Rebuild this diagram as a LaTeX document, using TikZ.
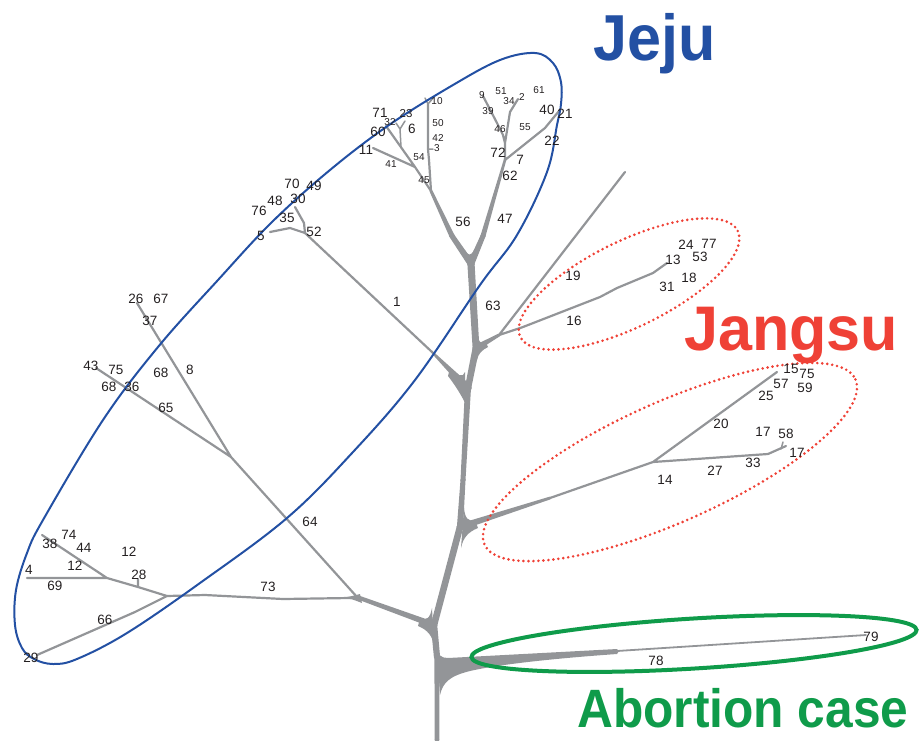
\documentclass[tikz,border=0pt]{standalone}
\usepackage{fontspec}
\setmainfont{Liberation Sans}
\usetikzlibrary{calc}
\definecolor{treegray}{RGB}{147,149,152}
\definecolor{labc}{RGB}{35,31,32}
\definecolor{jejublue}{RGB}{35,80,163}
\definecolor{jangred}{RGB}{239,65,54}
\definecolor{abgreen}{RGB}{15,155,74}

% tapered limb from #1 to #2 with half widths #3 and #4
\newcommand\tbranch[4]{%
  \fill[treegray] ($(#1)!#3!90:(#2)$) -- ($(#1)!#3!-90:(#2)$) --
    ($(#2)!#4!90:(#1)$) -- ($(#2)!#4!-90:(#1)$) -- cycle;
  \fill[treegray] (#1) circle[radius=#3];
  \fill[treegray] (#2) circle[radius=#4];}

\tikzset{
  lab/.style={font=\fontsize{13.5}{14}\selectfont, text=labc, inner sep=0pt},
  mlab/.style={font=\fontsize{11.5}{12}\selectfont, text=labc, inner sep=0pt},
  slab/.style={font=\fontsize{10}{11}\selectfont, text=labc, inner sep=0pt},
  twig/.style={draw=treegray, line width=2.2pt, line cap=round, line join=round},
  fine twig/.style={draw=treegray, line width=1.5pt, line cap=round, line join=round},
  dotted outline/.style={draw=jangred, line width=2.9pt, line cap=round, dash pattern=on 0pt off 5pt},
  title/.style={inner sep=0pt, anchor=base west},
}

\begin{document}
\begin{tikzpicture}[x=1pt,y=-1pt]
\useasboundingbox (0,0) rectangle (919,740);

% ---------- tree points ----------
% trunk
\coordinate (r0) at (437,740);
\coordinate (r1) at (437,657);
\coordinate (r2) at (434,625);
\coordinate (r3) at (460,527);
\coordinate (r35) at (463,480);
\coordinate (r4) at (468,388);
\coordinate (r5) at (476,348);
\coordinate (r6) at (471,264);
% upper left clade
\coordinate (a1) at (452,236);
\coordinate (n45) at (431,191);
\coordinate (b1) at (429,160);
\coordinate (b2) at (428,149);
\coordinate (b3) at (428,104);
\coordinate (b10a) at (425,98);
\coordinate (b10b) at (434,97);
\coordinate (b3t) at (433,149);
\coordinate (n54) at (415,167);
\coordinate (t11) at (373,148);
\coordinate (n60) at (386,126);
\coordinate (c1) at (401,147);
\coordinate (c2) at (400,129);
\coordinate (c23) at (405,121);
\coordinate (c6) at (396,123);
% upper right clade
\coordinate (a2) at (483,236);
\coordinate (n72) at (505,160);
\coordinate (nA) at (505,143);
\coordinate (d1) at (510,112);
\coordinate (t2) at (518,99);
\coordinate (d2) at (503,135);
\coordinate (d3) at (497,123);
\coordinate (t9) at (483,96);
\coordinate (e2) at (545,128);
\coordinate (t21) at (559,111);
% branch 1
\coordinate (f1) at (432,352);
\coordinate (n52) at (305,233);
\coordinate (g1) at (304,223);
\coordinate (t30) at (295,207);
\coordinate (g2) at (290,228);
\coordinate (t5) at (270,232);
% branch 73 / 64
\coordinate (n73) at (357,597);
\coordinate (h1) at (350,598);
\coordinate (h2) at (283,599);
\coordinate (h3) at (205,595);
\coordinate (n167) at (167,596);
\coordinate (n231) at (231,457);
\coordinate (t26) at (137,303);
\coordinate (t43) at (96,368);
\coordinate (i1) at (138,587);
\coordinate (i28) at (138,579);
\coordinate (n107) at (107,578);
\coordinate (t4) at (27,578);
\coordinate (t38) at (42,535);
\coordinate (k1) at (135,612);
\coordinate (t29) at (37,655);
% Jangsu, upper group
\coordinate (j1) at (499,335);
\coordinate (tU) at (625,172);
\coordinate (m1) at (523,327);
\coordinate (m2) at (600,297);
\coordinate (m3) at (617,288);
\coordinate (m4) at (653,273);
\coordinate (t13) at (667,263);
% Jangsu, lower group
\coordinate (p1) at (550,498);
\coordinate (n14) at (653,462);
\coordinate (t15) at (777,372);
\coordinate (q1) at (768,454);
\coordinate (t17) at (786,446);
\coordinate (q2) at (781,449);
\coordinate (q3) at (783,442);
% abortion case
\coordinate (s1) at (617,651);
\coordinate (t79) at (866,635);

% ---------- trunk and main limbs ----------
\tbranch{r0}{r1}{2.3pt}{2.6pt}
\tbranch{r1}{r2}{3.1pt}{3.2pt}
\tbranch{r2}{r3}{3.3pt}{3.3pt}
\tbranch{r3}{r35}{3.1pt}{2.5pt}
\tbranch{r35}{r4}{2.5pt}{3pt}
\tbranch{r4}{r5}{3.2pt}{3.4pt}
\tbranch{r5}{r6}{3.4pt}{3.6pt}
\tbranch{r6}{a1}{3.2pt}{2.6pt}
\tbranch{a1}{n45}{2.6pt}{1.5pt}
\tbranch{r6}{a2}{3.2pt}{2.5pt}
\tbranch{a2}{n72}{2.5pt}{1.3pt}
\tbranch{r4}{f1}{3.8pt}{1.1pt}
\tbranch{r2}{n73}{3pt}{2pt}
\tbranch{r3}{p1}{3.3pt}{1.4pt}
\tbranch{r5}{j1}{3pt}{1.5pt}

% fillets where limbs meet the trunk
\fill[treegray] (465,250) .. controls (468,256) and (471,256) .. (474,250) -- (471,262) -- cycle;
\fill[treegray] (450,368) .. controls (458,376) and (463,378) .. (465,372) -- (466,405) .. controls (462,396) and (455,385) .. (448,376) -- cycle;
\fill[treegray] (475,520) .. controls (468,522) and (465,518) .. (464,508) -- (461,548) .. controls (463,538) and (468,532) .. (478,528) -- cycle;
\fill[treegray] (420,618) .. controls (427,621) and (430,618) .. (432,608) -- (434,645) .. controls (432,636) and (428,630) .. (418,626) -- cycle;
\fill[treegray] (485,341) .. controls (480,344) and (479,342) .. (478,336) -- (477,360) .. controls (478,354) and (482,350) .. (488,347) -- cycle;
\fill[treegray] (342,598) .. controls (350,598) and (354,600) .. (362,603) -- (360,594) -- (352,596) -- cycle;
% wedge of the abortion-case limb
\fill[treegray] (437,648) .. controls (438,655) and (441,658) .. (448,658) -- (617,649)
  -- (619,651) -- (617,654) .. controls (560,658) and (500,664) .. (470,671)
  .. controls (450,676) and (443,682) .. (440,695) -- cycle;

% ---------- twigs ----------
\draw[twig] (n45) -- (b1) -- (b2) -- (b3);
\draw[fine twig] (b3) -- (b10a) (b3) -- (b10b) (b2) -- (b3t);
\draw[twig] (n45) -- (n54) -- (t11) (n54) -- (n60);
\draw[fine twig] (c1) -- (c2) -- (c23) (c2) -- (c6);
\draw[twig] (n72) -- (nA) -- (d1) -- (t2) (nA) -- (d2) -- (d3) -- (t9) (n72) -- (e2) -- (t21);
\draw[twig] (f1) -- (n52) -- (g1) -- (t30) (n52) -- (g2) -- (t5);
\draw[twig] (n73) -- (h1) -- (h2) -- (h3) -- (n167);
\draw[twig] (n73) -- (n231) -- (t26) (n231) -- (t43);
\draw[twig] (n167) -- (i1) -- (n107) -- (t4) (n107) -- (t38) (i1) -- (i28) (n167) -- (k1) -- (t29);
\draw[twig] (j1) -- (tU) (j1) -- (m1) -- (m2) -- (m3) -- (m4) -- (t13);
\draw[twig] (p1) -- (n14) -- (t15) (n14) -- (q1) -- (t17);
\draw[fine twig] (q2) -- (q3);
\draw[twig, line width=1.8pt] (s1) -- (t79);

% ---------- group outlines ----------
\draw[jejublue, line width=2pt] plot[smooth cycle, tension=0.6] coordinates {
  (535,53) (553,63) (561,82) (561,104) (557,125) (547,172) (517,235) (480,285)
  (415,380) (353,452) (287,518) (200,583) (127,633) (77,659) (53,664) (34,659)
  (22,648) (15,625) (16,590) (27,553) (43,520) (103,420) (158,347) (218,280)
  (272,222) (330,170) (389,125) (453,85) (500,60)};
\draw[dotted outline, shift={(629,284)}, rotate=26] (0,0) ellipse[x radius=121, y radius=43];
\draw[dotted outline, shift={(670,462)}, rotate=24] (0,0) ellipse[x radius=203, y radius=60];
\draw[abgreen, line width=4pt, shift={(694,643.5)}, rotate=3.5]
  (0,0) ellipse[x radius=223, y radius=25];

% ---------- leaf and branch labels ----------
\node[slab] (L10) at (437,101) {10};
\node[slab] (L32) at (390,122) {32};
\node[slab] (L50) at (438,123) {50};
\node[slab] (L42) at (438,138) {42};
\node[slab] (L3) at (437,148) {3};
\node[slab] (L41) at (391,164) {41};
\node[slab] (L54) at (419,157) {54};
\node[slab] (L45) at (424,180) {45};
\node[slab] (L9) at (482,95) {9};
\node[slab] (L51) at (501,91) {51};
\node[slab] (L39) at (488,111) {39};
\node[slab] (L34) at (509,101) {34};
\node[slab] (L2) at (522,97) {2};
\node[slab] (L61) at (539,90) {61};
\node[slab] (L46) at (500,129) {46};
\node[slab] (L55) at (525,127) {55};
\node[mlab] (L23) at (406,114) {23};
\node[lab] (L71) at (380,113) {71};
\node[lab] (L6) at (412,129) {6};
\node[lab] (L60) at (378,132) {60};
\node[lab] (L11) at (366,150) {11};
\node[lab] (L56) at (463,222) {56};
\node[lab] (L47) at (505,219) {47};
\node[lab] (L40) at (547,110) {40};
\node[lab] (L21) at (565,114) {21};
\node[lab] (L22) at (552,141) {22};
\node[lab] (L72) at (498,153) {72};
\node[lab] (L7) at (520,160) {7};
\node[lab] (L62) at (510,176) {62};
\node[lab] (L70) at (292,184) {70};
\node[lab] (L49) at (314,186) {49};
\node[lab] (L48) at (275,201) {48};
\node[lab] (L30) at (298,199) {30};
\node[lab] (L76) at (259,211) {76};
\node[lab] (L35) at (287,218) {35};
\node[lab] (L5) at (261,236) {5};
\node[lab] (L52) at (314,232) {52};
\node[lab] (L26) at (136,299) {26};
\node[lab] (L67) at (161,299) {67};
\node[lab] (L37) at (150,321) {37};
\node[lab] (L43) at (91,366) {43};
\node[lab] (L75a) at (116,370) {75};
\node[lab] (L68a) at (109,387) {68};
\node[lab] (L36) at (132,387) {36};
\node[lab] (L68b) at (161,373) {68};
\node[lab] (L8) at (190,370) {8};
\node[lab] (L65) at (166,408) {65};
\node[lab] (L1) at (397,302) {1};
\node[lab] (L63) at (493,306) {63};
\node[lab] (L64) at (310,522) {64};
\node[lab] (L73) at (268,587) {73};
\node[lab] (L74) at (69,535) {74};
\node[lab] (L38) at (50,544) {38};
\node[lab] (L44) at (84,548) {44};
\node[lab] (L12a) at (129,552) {12};
\node[lab] (L12b) at (75,566) {12};
\node[lab] (L4) at (29,570) {4};
\node[lab] (L28) at (139,575) {28};
\node[lab] (L69) at (55,586) {69};
\node[lab] (L66) at (105,620) {66};
\node[lab] (L29) at (31,658) {29};
\node[lab] (L19) at (573,276) {19};
\node[lab] (L16) at (574,321) {16};
\node[lab] (L24) at (686,245) {24};
\node[lab] (L77) at (709,244) {77};
\node[lab] (L13) at (673,260) {13};
\node[lab] (L53) at (700,257) {53};
\node[lab] (L18) at (689,278) {18};
\node[lab] (L31) at (667,287) {31};
\node[lab] (L15) at (791,369) {15};
\node[lab] (L75b) at (807,374) {75};
\node[lab] (L57) at (781,384) {57};
\node[lab] (L59) at (805,388) {59};
\node[lab] (L25) at (766,396) {25};
\node[lab] (L20) at (721,424) {20};
\node[lab] (L17a) at (763,432) {17};
\node[lab] (L58) at (786,434) {58};
\node[lab] (L17b) at (797,453) {17};
\node[lab] (L33) at (753,463) {33};
\node[lab] (L27) at (715,471) {27};
\node[lab] (L14) at (665,480) {14};
\node[lab] (L78) at (656,661) {78};
\node[lab] (L79) at (871,637) {79};

% ---------- group titles ----------
\node[title, text=jejublue, font=\fontsize{65}{65}\selectfont\bfseries] (jeju) at (593,60)
  {\scalebox{0.94}[1]{Jeju}};
\node[title, text=jangred, font=\fontsize{63}{63}\selectfont\bfseries] (jangsu) at (684,350)
  {\scalebox{0.97}[1]{Jangsu}};
\node[title, text=abgreen, font=\fontsize{54}{54}\selectfont\bfseries] (abort) at (577,727)
  {\scalebox{0.92}[1]{Abortion case}};
\end{tikzpicture}
\end{document}
